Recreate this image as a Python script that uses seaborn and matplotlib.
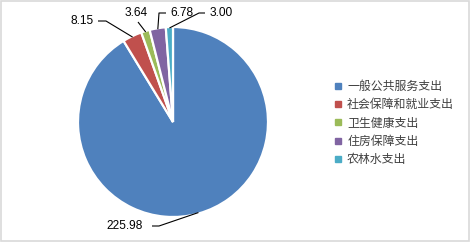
import numpy as np
import matplotlib
matplotlib.use("Agg")
import matplotlib.pyplot as plt
from matplotlib.lines import Line2D
from matplotlib.patches import Rectangle
import seaborn as sns

# ---- data ----
categories = ["一般公共服务支出", "社会保障和就业支出", "卫生健康支出", "住房保障支出", "农林水支出"]
values = [225.98, 8.15, 3.64, 6.78, 3.00]
value_labels = ["225.98", "8.15", "3.64", "6.78", "3.00"]
colors = ["#4F81BD", "#C0504D", "#9BBB59", "#8064A2", "#4BACC6"]

sns.set_style("white")
plt.rcParams['font.family'] = ['Noto Sans CJK SC', 'DejaVu Sans']

W, H = 470, 242
fig = plt.figure(figsize=(W / 100, H / 100), dpi=100)

# pie geometry (pixels)
cx, cy, R = 173, 122, 95
ax = fig.add_axes([(cx - R) / W, (H - cy - R) / H, 2 * R / W, 2 * R / H])
ax.axis("off")

palette = sns.color_palette(colors)
wedges, _ = ax.pie(values, colors=palette, startangle=90, counterclock=False,
                   radius=1.0, wedgeprops=dict(edgecolor="white", linewidth=1.6),
                   center=(0, 0), frame=False)
ax.set_xlim(-1, 1)
ax.set_ylim(-1, 1)
ax.set_aspect("equal")

def px2d(px, py):
    return ((px - cx) / R, (cy - py) / R)

# label layout: (text x, text y, ha, elbow points in pixels)
layout = [
    (143, 226, "right", [(152, 226), (159, 226)]),
    (94, 21, "right", [(98, 21), (106, 21)]),
    (125, 13, "left", [(138, 22)]),
    (170, 13, "left", [(166, 13), (159, 13)]),
    (210, 13, "left", [(205, 13), (199, 13)]),
]

for w, lab, (tx, ty, ha, elbow) in zip(wedges, value_labels, layout):
    mid = np.deg2rad((w.theta1 + w.theta2) / 2)
    anchor = (0.99 * np.cos(mid), 0.99 * np.sin(mid))
    pts = [px2d(*p) for p in elbow] + [anchor]
    xs, ys = zip(*pts)
    ax.plot(xs, ys, color="black", lw=0.8, clip_on=False, solid_capstyle="butt")
    x, y = px2d(tx, ty)
    ax.text(x, y, lab, ha=ha, va="center", fontsize=8.6, color="black",
            family=['Liberation Sans', 'DejaVu Sans'], clip_on=False)

handles = [Line2D([0], [0], marker="s", linestyle="none", markersize=4.5,
                  markerfacecolor=c, markeredgecolor=c) for c in palette]
leg = fig.legend(handles, categories, loc="upper left",
                 bbox_to_anchor=(328 / W, 1 - 75 / H), frameon=False,
                 fontsize=8.6, handlelength=0.8, handletextpad=0.4,
                 labelspacing=0.45, borderaxespad=0)
for t in leg.get_texts():
    t.set_color("#404040")

fig.add_artist(Rectangle((0.5 / W, 1.5 / H), (W - 2) / W, (H - 2.5) / H,
                         transform=fig.transFigure, fill=False,
                         edgecolor="#D9D9D9", lw=1.2))

fig.savefig("out.png", dpi=100)
